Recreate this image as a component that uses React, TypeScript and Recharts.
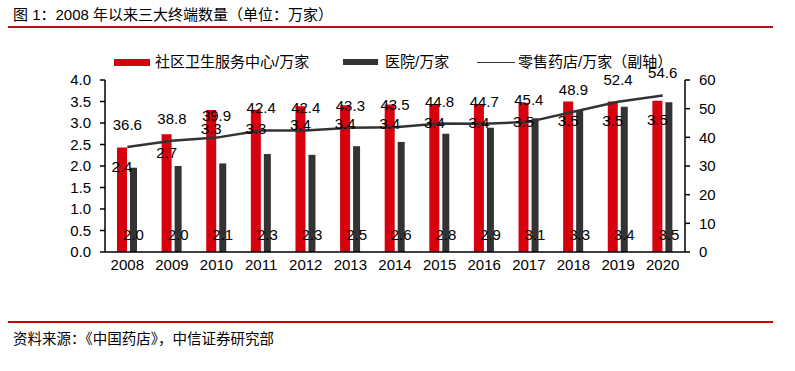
import React from "react";
import {
  ComposedChart,
  Bar,
  Line,
  XAxis,
  YAxis,
  LabelList,
} from "recharts";

// 年份
const years = ["2008", "2009", "2010", "2011", "2012", "2013", "2014", "2015", "2016", "2017", "2018", "2019", "2020"];
// 社区卫生服务中心（万家，左轴）
const communityCenters = [2.43, 2.74, 3.3, 3.31, 3.39, 3.41, 3.43, 3.44, 3.44, 3.47, 3.5, 3.5, 3.52];
// 医院（万家，左轴）
const hospitals = [1.96, 2.0, 2.06, 2.28, 2.26, 2.46, 2.56, 2.75, 2.89, 3.11, 3.3, 3.38, 3.48];
// 零售药店（万家，副轴）
const pharmacies = [36.6, 38.8, 39.9, 42.4, 42.4, 43.3, 43.5, 44.8, 44.7, 45.4, 48.9, 52.4, 54.6];

const leftTicks = [0, 0.5, 1, 1.5, 2, 2.5, 3, 3.5, 4];
const rightTicks = [0, 10, 20, 30, 40, 50, 60];

const RED = "#d7000f";
const DARK = "#333333";
const FONT = "'Liberation Sans', Arial, 'Noto Sans CJK SC', sans-serif";

const data = years.map((year, i) => ({
  year,
  community: communityCenters[i],
  hospital: hospitals[i],
  pharmacy: pharmacies[i],
}));

const tickStyle = { fill: "#000", fontSize: 15, fontFamily: FONT };

function RedLabel(props: any) {
  const { x, y, width, value } = props;
  return (
    <text x={x + width / 2} y={y + 24} textAnchor="middle" fill="#000" fontSize={15} fontFamily={FONT}>
      {Number(value).toFixed(1)}
    </text>
  );
}

function DarkLabel(props: any) {
  const { x, y, width, height, value } = props;
  return (
    <text x={x + width / 2} y={y + height - 12} textAnchor="middle" fill="#000" fontSize={15} fontFamily={FONT}>
      {Number(value).toFixed(1)}
    </text>
  );
}

function LineLabel(props: any) {
  const { x, y, value } = props;
  return (
    <text x={x} y={y - 17} textAnchor="middle" fill="#000" fontSize={15} fontFamily={FONT}>
      {Number(value).toFixed(1)}
    </text>
  );
}

export default function App() {
  return (
    <div
      style={{
        position: "absolute",
        left: 0,
        top: 0,
        width: 795,
        height: 371,
        background: "#fff",
        fontFamily: FONT,
        color: "#000",
      }}
    >
      {/* 标题 */}
      <div style={{ position: "absolute", left: 13, top: 5, fontSize: 15, lineHeight: "20px", whiteSpace: "nowrap" }}>
        图 1：2008 年以来三大终端数量（单位：万家）
      </div>
      <div style={{ position: "absolute", left: 8, top: 26, width: 765, height: 1.5, background: "#b01515" }} />

      {/* 图例 */}
      <div style={{ position: "absolute", left: 114, top: 59, width: 36, height: 7, background: RED }} />
      <div style={{ position: "absolute", left: 155, top: 52, fontSize: 15, lineHeight: "20px", whiteSpace: "nowrap" }}>
        社区卫生服务中心/万家
      </div>
      <div style={{ position: "absolute", left: 343, top: 59, width: 35, height: 6, background: DARK }} />
      <div style={{ position: "absolute", left: 385, top: 52, fontSize: 15, lineHeight: "20px", whiteSpace: "nowrap" }}>
        医院/万家
      </div>
      <div style={{ position: "absolute", left: 477, top: 61.5, width: 38, height: 1.5, background: DARK }} />
      <div style={{ position: "absolute", left: 518, top: 52, fontSize: 15, lineHeight: "20px", whiteSpace: "nowrap" }}>
        零售药店/万家（副轴）
      </div>

      <div style={{ position: "absolute", left: 0, top: 0 }}>
        <ComposedChart
          width={795}
          height={300}
          data={data}
          margin={{ top: 80, right: 60, bottom: 18, left: 55 }}
          barGap={3}
        >
          <XAxis
            dataKey="year"
            tick={tickStyle}
            tickLine={false}
            tickSize={0}
            tickMargin={7}
            height={30}
            axisLine={{ stroke: "#000", strokeWidth: 1.5 }}
            interval={0}
          />
          {/* 仅用于把数据标签画在折线之上的隐藏类目轴 */}
          <XAxis xAxisId="labels" dataKey="year" hide />
          <YAxis
            yAxisId="left"
            domain={[0, 4]}
            ticks={leftTicks}
            tickFormatter={(v: number) => v.toFixed(1)}
            tick={tickStyle}
            tickSize={5}
            tickMargin={9}
            width={50}
            axisLine={{ stroke: "#000", strokeWidth: 1.5 }}
            tickLine={{ stroke: "#000", strokeWidth: 1.5 }}
            interval={0}
          />
          <YAxis
            yAxisId="right"
            orientation="right"
            domain={[0, 60]}
            ticks={rightTicks}
            tick={tickStyle}
            tickSize={5}
            tickMargin={9}
            width={50}
            axisLine={{ stroke: "#000", strokeWidth: 1.5 }}
            tickLine={{ stroke: "#000", strokeWidth: 1.5 }}
            interval={0}
          />
          <Bar yAxisId="left" dataKey="community" fill={RED} barSize={10} isAnimationActive={false} />
          <Bar yAxisId="left" dataKey="hospital" fill={DARK} barSize={7} isAnimationActive={false} />
          <Line
            yAxisId="right"
            dataKey="pharmacy"
            stroke={DARK}
            strokeWidth={2.5}
            dot={false}
            isAnimationActive={false}
          />
          <Bar xAxisId="labels" yAxisId="left" dataKey="community" fill="none" barSize={10} isAnimationActive={false} legendType="none">
            <LabelList dataKey="community" content={RedLabel} />
          </Bar>
          <Bar xAxisId="labels" yAxisId="left" dataKey="hospital" fill="none" barSize={7} isAnimationActive={false} legendType="none">
            <LabelList dataKey="hospital" content={DarkLabel} />
          </Bar>
          <Line yAxisId="right" dataKey="pharmacy" stroke="none" dot={false} isAnimationActive={false} legendType="none">
            <LabelList dataKey="pharmacy" content={LineLabel} />
          </Line>
        </ComposedChart>
      </div>

      {/* 资料来源 */}
      <div style={{ position: "absolute", left: 8, top: 321, width: 765, height: 1.5, background: "#cc0000" }} />
      <div style={{ position: "absolute", left: 13, top: 329, fontSize: 14.5, lineHeight: "20px", whiteSpace: "nowrap" }}>
        资料来源：《中国药店》，中信证券研究部
      </div>
    </div>
  );
}
